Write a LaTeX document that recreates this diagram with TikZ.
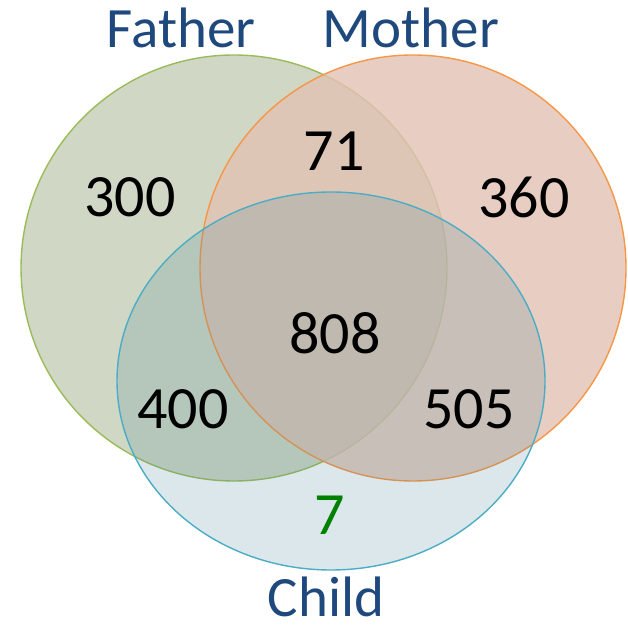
\documentclass[tikz,border=0pt]{standalone}
\usepackage{fontspec}
\setmainfont{Carlito}
\usetikzlibrary{shapes.geometric}

\definecolor{fatherfill}{RGB}{208,215,197}
\definecolor{fatherline}{RGB}{155,187,89}
\definecolor{motherfill}{RGB}{226,194,179}
\definecolor{motherline}{RGB}{247,150,70}
\definecolor{childfill}{RGB}{75,135,150}
\definecolor{childline}{RGB}{75,172,198}
\definecolor{setname}{RGB}{31,73,125}
\definecolor{onlychild}{RGB}{0,128,0}

\begin{document}
\begin{tikzpicture}[
    x=1pt, y=1pt,
    set/.style={ellipse, draw, line width=1.4pt, inner sep=0pt, outer sep=0pt},
    count/.style={inner sep=0pt, font=\fontsize{60}{72}\selectfont},
    setlabel/.style={inner sep=0pt, anchor=base, text=setname, font=\fontsize{57}{68}\selectfont}
]
\useasboundingbox (0,0) rectangle (628,626);

% the three sets
\node[set, fill=fatherfill, draw=fatherline, minimum width=426pt, minimum height=426pt] (father) at (234,358) {};
\node[set, fill=motherfill, fill opacity=0.8, draw=motherline, minimum width=426pt, minimum height=426pt] (mother) at (413,358) {};
\node[set, fill=childfill, fill opacity=0.2, draw=childline, minimum width=428pt, minimum height=378pt] (child) at (331,245) {};

% set names
\node[setlabel] (lfather) at (181,578) {Father};
\node[setlabel] (lmother) at (411,578) {Mother};
\node[setlabel] (lchild) at (326,10) {Child};

% region counts
\node[count] (nf) at (130,429) {300};
\node[count] (nfm) at (334,475) {71};
\node[count] (nm) at (524,429) {360};
\node[count] (nfmc) at (335,293) {808};
\node[count] (nfc) at (183,217) {400};
\node[count] (nmc) at (469,217) {505};
\node[count, text=onlychild] (nc) at (330,111) {7};

\end{tikzpicture}
\end{document}
